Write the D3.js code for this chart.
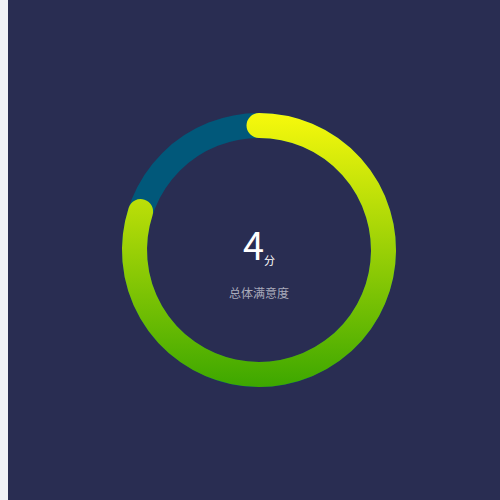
<!DOCTYPE html>
<html>
<head>
<meta charset="utf-8">
<script src="https://cdn.jsdelivr.net/npm/d3@7"></script>
<style>
  html, body { margin: 0; padding: 0; background: #f0f2f7; }
  #chart { position: absolute; left: 8px; top: 0; width: 492px; height: 500px; background: #292d52; }
</style>
</head>
<body>
<div id="chart"></div>
<script>
const score = 4;
const maxScore = 5;
const unit = '分';
const title = '总体满意度';
const gradientColors = ['#f7f90c', '#3da700'];

const width = 492, height = 500;
const cx = 251, cy = 250;
const outerR = 137, innerR = 112;
const midR = (outerR + innerR) / 2;
const thick = outerR - innerR;

const svg = d3.select('#chart').append('svg')
  .attr('width', width)
  .attr('height', height);

const g = svg.append('g').attr('transform', `translate(${cx},${cy})`);

// gradient coords are in the group's space (centre = 0,0)
const grad = svg.append('defs').append('linearGradient')
  .attr('id', 'ringGrad')
  .attr('gradientUnits', 'userSpaceOnUse')
  .attr('x1', 0).attr('y1', -outerR)
  .attr('x2', 0).attr('y2', outerR);
grad.selectAll('stop')
  .data(gradientColors)
  .enter().append('stop')
  .attr('offset', (d, i) => i / (gradientColors.length - 1))
  .attr('stop-color', d => d);

const angle = d3.scaleLinear().domain([0, maxScore]).range([0, 2 * Math.PI]);

const ringPath = (a0, a1) => {
  const p = d3.path();
  p.arc(0, 0, midR, a0 - Math.PI / 2, a1 - Math.PI / 2);
  return p.toString();
};

// track
g.append('circle')
  .attr('r', midR)
  .attr('fill', 'none')
  .attr('stroke', '#01587a')
  .attr('stroke-width', thick);

// value, round caps
g.append('path')
  .attr('d', ringPath(0, angle(score)))
  .attr('fill', 'none')
  .attr('stroke', 'url(#ringGrad)')
  .attr('stroke-width', thick)
  .attr('stroke-linecap', 'round');

const label = g.append('text')
  .attr('text-anchor', 'middle')
  .attr('y', 10)
  .attr('fill', '#fff')
  .style('font-family', '"Noto Sans CJK SC", "Noto Sans", sans-serif');
label.append('tspan')
  .style('font-size', '38px')
  .text(score);
label.append('tspan')
  .style('font-size', '11px')
  .attr('dy', 5)
  .text(unit);

g.append('text')
  .attr('text-anchor', 'middle')
  .attr('y', 48)
  .attr('fill', '#a9abbb')
  .style('font-family', '"Noto Sans CJK SC", sans-serif')
  .style('font-size', '12px')
  .text(title);
</script>
</body>
</html>
